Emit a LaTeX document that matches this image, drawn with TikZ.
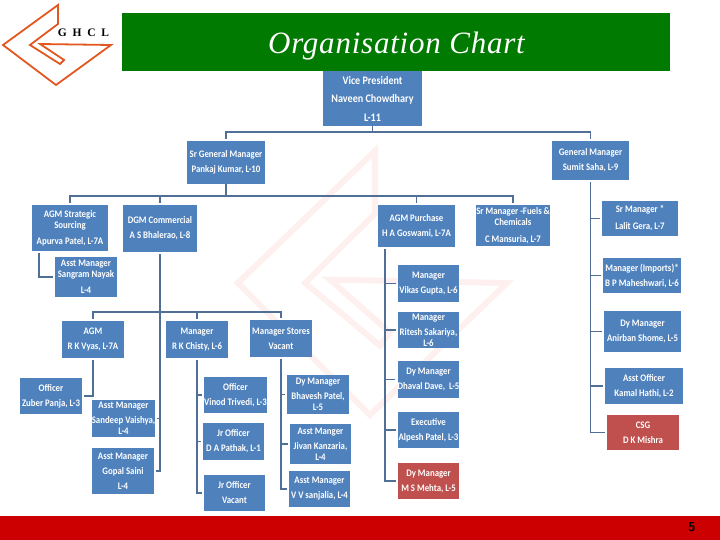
\documentclass[tikz,border=0pt]{standalone}
\usepackage{fontspec}
\setmainfont{Carlito}[FakeStretch=0.88]
\newfontfamily\titlefont{Liberation Serif}
\definecolor{boxblue}{HTML}{4F81BD}
\definecolor{boxred}{HTML}{C0504D}
\definecolor{linkblue}{HTML}{4F6F96}
\definecolor{bandgreen}{HTML}{007A00}
\definecolor{footred}{HTML}{CC0000}
\definecolor{logoorange}{HTML}{E2571F}
\definecolor{markpink}{HTML}{FDF0EF}
\tikzset{
    ghclmark/.pic={
        \draw[pic actions] (58,5) -- (3,45) -- (56,85) -- (111,45) -- (40,44) -- (64,60) -- (60,64) -- (30,45) -- (58,24) -- cycle;
    }
}
\begin{document}
\begin{tikzpicture}[
        x=1pt,
        y=-1pt,
        orgbox/.style={
            rectangle,
            fill=boxblue,
            text=white,
            align=center,
            inner sep=0pt,
            font=\fontsize{10}{11}\selectfont\bfseries
        },
        redbox/.style={orgbox, fill=boxred},
        link/.style={draw=linkblue, line width=1.8pt, shorten >=2pt},
        trunk/.style={link, shorten <=2pt}
    ]
    \useasboundingbox (0,0) rectangle (720,540);
    % Logo y marca de agua
    \pic[draw=markpink, line width=6pt, xscale=2.49, yscale=3.3] at (230.5,134.5) {ghclmark};
    \pic[draw=logoorange, line width=1.8pt] at (0,0) {ghclmark};
    \node[font=\titlefont\fontsize{11.5}{13}\selectfont\bfseries, inner sep=0pt] (ghcl) at (83.5,33) {G\,\,\,H\,\,\,C\,\,\,L};

    % Banda de titulo y pie
    \node[fill=bandgreen, minimum width=548pt, minimum height=58pt, inner sep=0pt] (titleband) at (396,42) {};
    \node[text=white, inner sep=0pt, font=\titlefont\fontsize{31}{36}\selectfont\itshape\addfontfeatures{LetterSpace=2.5}] (charttitle) at (396.5,46.5) {Organisation Chart};
    \node[fill=footred, minimum width=720pt, minimum height=24pt, inner sep=0pt] (footer) at (360,528) {};
    \node[font=\fontsize{13}{15}\selectfont\bfseries\sffamily, inner sep=0pt] (pagenum) at (692,527.5) {5};

    % Nodos con coordenadas fijas
    \node[orgbox, minimum width=99pt, minimum height=55pt, font=\fontsize{11.5}{13}\selectfont\bfseries] (vp) at (372.5,98.5) {Vice President\\[5.5pt]Naveen Chowdhary\\[5.5pt]L-11};
    \node[orgbox, minimum width=78pt, minimum height=43pt] (srgm) at (226,162.5) {Sr General Manager\\[4pt]Pankaj Kumar, L-10};
    \node[orgbox, minimum width=77pt, minimum height=39pt] (gm) at (590.5,160.5) {General Manager\\[4pt]Sumit Saha, L-9};

    \node[orgbox, minimum width=76pt, minimum height=46pt] (strategic) at (70,228) {AGM Strategic\\Sourcing\\[5pt]Apurva Patel, L-7A};
    \node[orgbox, minimum width=74pt, minimum height=47pt] (commercial) at (160,228.5) {DGM Commercial\\[4pt]A S Bhalerao, L-8};
    \node[orgbox, minimum width=77pt, minimum height=42pt] (purchase) at (416.5,226) {AGM Purchase\\[4pt]H A Goswami, L-7A};
    \node[orgbox, minimum width=72pt, minimum height=41pt] (fuels) at (513,225.5) {Sr Manager -Fuels\,\&\\Chemicals\\[6pt]C Mansuria, L-7};

    \node[orgbox, minimum width=62pt, minimum height=40pt] (sangram) at (86,277) {Asst Manager\\Sangram Nayak\\[5pt]L-4};
    \node[orgbox, minimum width=62pt, minimum height=37pt] (vyas) at (93,339.5) {AGM\\[4pt]R K Vyas, L-7A};
    \node[orgbox, minimum width=62pt, minimum height=37pt] (chisty) at (197,339.5) {Manager\\[4pt]R K Chisty, L-6};
    \node[orgbox, minimum width=62pt, minimum height=37pt] (stores) at (281,338.5) {Manager Stores\\[4pt]Vacant};
    \node[orgbox, minimum width=62pt, minimum height=36pt] (zuber) at (51,396) {Officer\\[4pt]Zuber Panja, L-3};
    \node[orgbox, minimum width=63pt, minimum height=37pt] (sandeep) at (123.5,418.5) {Asst Manager\\[4pt]Sandeep Vaishya,\\L-4};
    \node[orgbox, minimum width=62pt, minimum height=46pt] (gopal) at (123,471) {Asst Manager\\[4pt]Gopal Saini\\[4pt]L-4};

    \node[orgbox, minimum width=61pt, minimum height=36pt] (vinod) at (235.5,395) {Officer\\[4pt]Vinod Trivedi, L-3};
    \node[orgbox, minimum width=61pt, minimum height=37pt] (pathak) at (233.5,441.5) {Jr Officer\\[4pt]D A Pathak, L-1};
    \node[orgbox, minimum width=61pt, minimum height=36pt] (jrvacant) at (234.5,493) {Jr Officer\\[4pt]Vacant};
    \node[orgbox, minimum width=62pt, minimum height=39pt] (bhavesh) at (318,394.5) {Dy Manager\\[4pt]Bhavesh Patel,\\L-5};
    \node[orgbox, minimum width=61pt, minimum height=40pt] (jivan) at (320.5,444) {Asst Manger\\[4pt]Jivan Kanzaria,\\L-4};
    \node[orgbox, minimum width=61pt, minimum height=36pt] (sanjalia) at (319.5,489) {Asst Manager\\[4pt]V V sanjalia, L-4};

    \node[orgbox, minimum width=61pt, minimum height=37pt] (vikas) at (428.5,283.5) {Manager\\[4pt]Vikas Gupta, L-6};
    \node[orgbox, minimum width=61pt, minimum height=36pt] (ritesh) at (428.5,330) {Manager\\[4pt]Ritesh Sakariya,\\L-6};
    \node[orgbox, minimum width=61pt, minimum height=37pt] (dhaval) at (428.5,379.5) {Dy Manager\\[4pt]Dhaval Dave,~ L-5};
    \node[orgbox, minimum width=61pt, minimum height=36pt] (alpesh) at (428.5,430) {Executive\\[4pt]Alpesh Patel, L-3};
    \node[redbox, minimum width=61pt, minimum height=36pt] (mehta) at (428.5,481) {Dy Manager\\[4pt]M S Mehta, L-5};

    \node[orgbox, minimum width=76pt, minimum height=35pt] (lalit) at (640,218.5) {Sr Manager *\\[6pt]Lalit Gera, L-7};
    \node[orgbox, minimum width=78pt, minimum height=35pt] (imports) at (642,275.5) {Manager (Imports)*\\[4pt]B P Maheshwari, L-6};
    \node[orgbox, minimum width=77pt, minimum height=41pt] (anirban) at (642.5,331.5) {Dy Manager\\[4pt]Anirban Shome, L-5};
    \node[orgbox, minimum width=78pt, minimum height=36pt] (kamal) at (644,386) {Asst Officer\\[4pt]Kamal Hathi, L-2};
    \node[redbox, minimum width=72pt, minimum height=35pt] (csg) at (643,432.5) {CSG\\[4pt]D K Mishra};

    \coordinate (topbus) at (372.5,132);
    \coordinate (midbus) at (226,196);
    \coordinate (lowbus) at (160,312);
    \coordinate (strategicfoot) at (39,251);
    \coordinate (purchasefoot) at (385,247);

    % Conexiones
    \draw[link] (vp.south) -- (topbus) -| (srgm.north);
    \draw[link] (topbus) -| (gm.north);
    \draw[link] (srgm.south) -- (midbus) -| (strategic.north);
    \draw[link] (midbus) -| (commercial.north);
    \draw[link] (midbus) -| (purchase.north);
    \draw[link] (midbus) -| (fuels.north);
    \draw[trunk] (strategicfoot) |- (sangram.west);
    \draw[link] (lowbus) -| (vyas.north);
    \draw[link] (lowbus) -| (chisty.north);
    \draw[link] (lowbus) -| (stores.north);
    \draw[trunk] (vyas.south) |- (zuber.east);
    \foreach \child in {sandeep,gopal}
        \draw[trunk] (commercial.south) |- (\child.east);
    \foreach \child in {vinod,pathak,jrvacant}
        \draw[trunk] (chisty.south) |- (\child.west);
    \foreach \child in {bhavesh,jivan,sanjalia}
        \draw[trunk] (stores.south) |- (\child.west);
    \foreach \child in {vikas,ritesh,dhaval,alpesh,mehta}
        \draw[trunk] (purchasefoot) |- (\child.west);
    \foreach \child in {lalit,imports,anirban,kamal,csg}
        \draw[trunk] (gm.south) |- (\child.west);
\end{tikzpicture}
\end{document}
